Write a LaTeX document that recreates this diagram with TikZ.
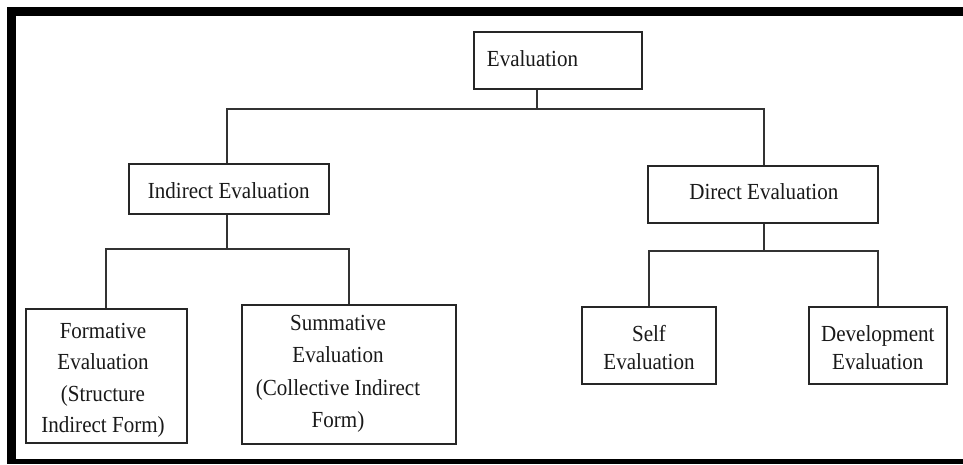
\documentclass[tikz,border=0pt]{standalone}
\usepackage{fontspec}
\setmainfont{Liberation Serif}
\newcommand{\cond}[1]{\scalebox{0.915}[1]{#1}}
\begin{document}
\begin{tikzpicture}[x=1pt,y=-1pt,
  box/.style={draw=black!85, line width=1.8pt, inner sep=0pt, fill=white},
  conn/.style={draw=black!80, line width=1.7pt},
  txt/.style={inner sep=0pt, text=black!90, font=\fontsize{23}{31.5}\selectfont},
  frame/.style={fill=black, draw=none}]
\useasboundingbox (0,0) rectangle (963,464);
\fill[white] (0,0) rectangle (963,464);
% outer frame
\fill[frame] (6.5,7) rectangle (963,16);
\fill[frame] (6.5,7) rectangle (15.5,464);
\fill[frame] (6.5,459) rectangle (963,464);
% boxes
\node[box, minimum width=168pt, minimum height=57pt] (eval) at (558,60.5) {};
\node[box, minimum width=200pt, minimum height=49.7pt] (ind) at (229,189.2) {};
\node[box, minimum width=230pt, minimum height=57pt] (dir) at (763.3,194.2) {};
\node[box, minimum width=161pt, minimum height=134pt] (form) at (106.2,376.3) {};
\node[box, minimum width=214.3pt, minimum height=139.3pt] (summ) at (348.8,374.7) {};
\node[box, minimum width=133.4pt, minimum height=77pt] (self) at (649,345.8) {};
\node[box, minimum width=138pt, minimum height=77pt] (dev) at (877.7,345.8) {};
% junctions
\coordinate (j1) at (536.7,108.7);
\coordinate (j2) at (226.7,249.3);
\coordinate (j3) at (764.3,250.7);
% connectors
\draw[conn] (eval.south -| j1) -- (j1);
\draw[conn] (ind.north -| j2) |- (j1) -| (dir.north -| j3);
\draw[conn] (ind.south -| j2) -- (j2);
\draw[conn] (form.north) |- (j2) -| (summ.north);
\draw[conn] (dir.south -| j3) -- (j3);
\draw[conn] (self.north) |- (j3) -| (dev.north);
% texts
\node[txt, anchor=base] (evalt) at (532.5,66) {\cond{Evaluation}};
\node[txt, anchor=base] (indt) at (228.8,198.3) {\cond{Indirect Evaluation}};
\node[txt, anchor=base] (dirt) at (763.8,199.3) {\cond{Direct Evaluation}};
\node[txt, anchor=base] (formt) at (103,338.3) {\cond{\begin{tabular}[t]{@{}c@{}}Formative\\Evaluation\\(Structure\\Indirect Form)\end{tabular}}};
\node[txt, anchor=base, font=\fontsize{23}{32.5}\selectfont] (summt) at (338,330) {\cond{\begin{tabular}[t]{@{}c@{}}Summative\\Evaluation\\(Collective Indirect\\Form)\end{tabular}}};
\node[txt, anchor=base, font=\fontsize{23}{28.5}\selectfont] (selft) at (649,341) {\cond{\begin{tabular}[t]{@{}c@{}}Self\\Evaluation\end{tabular}}};
\node[txt, anchor=base, font=\fontsize{23}{28.5}\selectfont] (devt) at (877.8,341) {\cond{\begin{tabular}[t]{@{}c@{}}Development\\Evaluation\end{tabular}}};
\end{tikzpicture}
\end{document}
